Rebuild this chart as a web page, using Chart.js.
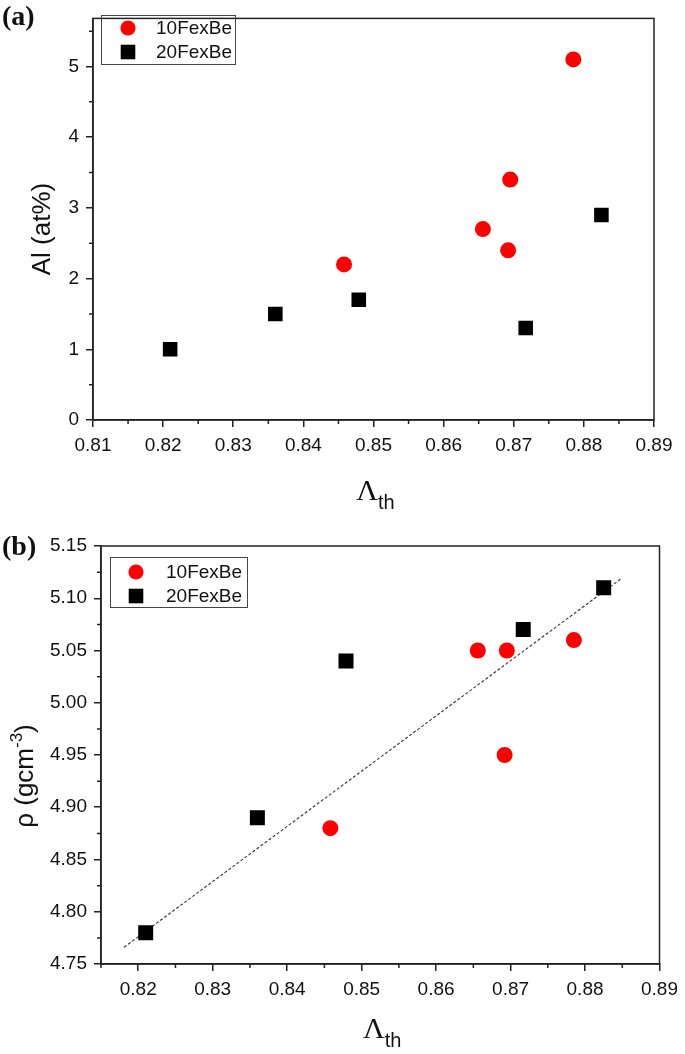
<!DOCTYPE html>
<html>
<head>
<meta charset="utf-8">
<script src="https://cdn.jsdelivr.net/npm/chart.js@4.4.1/dist/chart.umd.min.js"></script>
<style>
  body { margin: 0; background: #fff; }
  #wrap { position: relative; width: 685px; height: 1054px; }
  canvas { position: absolute; left: 0; }
</style>
</head>
<body>
<div id="wrap">
  <canvas id="chartA" width="685" height="520" style="top:0px"></canvas>
  <canvas id="chartB" width="685" height="534" style="top:520px"></canvas>
</div>
<script>
// values
const lambda10 = [0.8458, 0.8656, 0.8692, 0.8695, 0.8785];
const lambda20 = [0.8210, 0.8360, 0.8479, 0.8717, 0.8825];
const al10 = [2.2, 2.7, 2.4, 3.4, 5.1];
const al20 = [1.0, 1.5, 1.7, 1.3, 2.9];
const rho10 = [4.88, 5.05, 4.95, 5.05, 5.06];
const rho20 = [4.78, 4.89, 5.04, 5.07, 5.11];
const fitLambda = [0.8181, 0.8849];
const fitRho = [4.766, 5.119];
const seriesNames = ['10FexBe', '20FexBe'];

// tick labels (major) and minor tick positions
const ticksAx = [0.81, 0.82, 0.83, 0.84, 0.85, 0.86, 0.87, 0.88, 0.89];
const ticksAy = [0, 1, 2, 3, 4, 5];
const minorAx = [0.815, 0.825, 0.835, 0.845, 0.855, 0.865, 0.875, 0.885];
const minorAy = [0.5, 1.5, 2.5, 3.5, 4.5, 5.5];
const ticksBx = [0.82, 0.83, 0.84, 0.85, 0.86, 0.87, 0.88, 0.89];
const ticksBy = [4.75, 4.80, 4.85, 4.90, 4.95, 5.00, 5.05, 5.10, 5.15];
const minorBx = [0.815, 0.825, 0.835, 0.845, 0.855, 0.865, 0.875, 0.885];
const minorBy = [4.775, 4.825, 4.875, 4.925, 4.975, 5.025, 5.075, 5.125];

const SANS = "'Liberation Sans', Arial, sans-serif";
const SERIF = "'Liberation Serif', 'Times New Roman', serif";
const INK = '#222';

const pts = (xs, ys) => xs.map((x, i) => ({ x: x, y: ys[i] }));

function axis(min, max, ticks, fmt, fit, pad) {
  return {
    type: 'linear', min: min, max: max,
    afterBuildTicks: s => { s.ticks = ticks.map(v => ({ value: v })); },
    afterFit: s => { Object.assign(s, fit); },
    grid: { drawOnChartArea: false, drawTicks: true, tickLength: 7, color: INK, lineWidth: 1.5 },
    border: { display: true, color: INK, width: 1.5 },
    ticks: { autoSkip: false, maxRotation: 0, padding: pad, color: '#111',
             font: { family: SANS, size: 19 }, callback: v => fmt(v) }
  };
}

// frame, minor ticks, legend, titles
const decor = {
  id: 'decor',
  afterDraw(chart, args, o) {
    const ctx = chart.ctx, a = chart.chartArea;
    const xs = chart.scales.x, ys = chart.scales.y;
    ctx.save();
    ctx.strokeStyle = INK;
    ctx.lineWidth = 1.5;
    ctx.strokeRect(a.left, a.top, a.right - a.left, a.bottom - a.top);
    ctx.beginPath();
    o.minorX.forEach(v => { const p = xs.getPixelForValue(v); ctx.moveTo(p, a.bottom); ctx.lineTo(p, a.bottom + 4); });
    o.minorY.forEach(v => { const p = ys.getPixelForValue(v); ctx.moveTo(a.left - 4, p); ctx.lineTo(a.left, p); });
    ctx.stroke();

    // legend
    const L = o.legend;
    ctx.lineWidth = 1;
    ctx.strokeStyle = '#444';
    ctx.strokeRect(L.x + 0.5, L.y + 0.5, L.w, L.h);
    ctx.font = '19px ' + SANS;
    ctx.textBaseline = 'middle';
    ctx.textAlign = 'left';
    [0, 1].forEach(i => {
      const ds = chart.data.datasets[i];
      const cy = L.y + L.rows[i];
      ctx.fillStyle = ds.backgroundColor;
      if (ds.pointStyle === 'circle') {
        ctx.beginPath(); ctx.arc(L.mx, cy, 7.6, 0, Math.PI * 2); ctx.fill();
      } else {
        ctx.fillRect(L.mx - 7.3, cy - 7.3, 14.6, 14.6);
      }
      ctx.fillStyle = '#111';
      ctx.fillText(ds.label, L.tx, cy + 1);
    });

    // panel letter
    ctx.font = 'bold 28px ' + SERIF;
    ctx.textBaseline = 'alphabetic';
    ctx.fillText(o.letter, 2, o.letterY);

    // x title: Lambda with subscript th
    ctx.font = '30px ' + SERIF;
    const wL = ctx.measureText('\u039B').width;
    ctx.font = '20px ' + SANS;
    const wT = ctx.measureText('th').width;
    const cx = (a.left + a.right) / 2 + 2;
    const x0 = cx - (wL + wT) / 2;
    ctx.font = '30px ' + SERIF;
    ctx.fillText('\u039B', x0, a.bottom + o.xTitleDy);
    ctx.font = '20px ' + SANS;
    ctx.fillText('th', x0 + wL, a.bottom + o.xTitleDy + 9);

    // y title
    ctx.translate(o.yTitleX, o.yTitleY);
    ctx.rotate(-Math.PI / 2);
    const parts = o.yTitle;
    let w = 0;
    parts.forEach(p => { ctx.font = p.size + 'px ' + SANS; w += ctx.measureText(p.t).width; });
    let x = -w / 2;
    ctx.textBaseline = 'middle';
    parts.forEach(p => {
      ctx.font = p.size + 'px ' + SANS;
      ctx.fillText(p.t, x, p.up ? -p.up : 0);
      x += ctx.measureText(p.t).width;
    });
    ctx.restore();
  }
};

function scatterSets(x10, y10, x20, y20, sq) {
  return [
    { label: seriesNames[0], data: pts(x10, y10), pointStyle: 'circle', pointRadius: 8,
      backgroundColor: '#ff0000', borderWidth: 0, pointBorderWidth: 0 },
    { label: seriesNames[1], data: pts(x20, y20), pointStyle: 'rect', pointRadius: sq,
      backgroundColor: '#000000', borderWidth: 0, pointBorderWidth: 0 }
  ];
}

const common = {
  responsive: false, animation: false, devicePixelRatio: 1,
  plugins: { legend: { display: false }, tooltip: { enabled: false } },
  events: []
};

new Chart(document.getElementById('chartA'), {
  type: 'scatter',
  data: { datasets: scatterSets(lambda10, al10, lambda20, al20, 10.3) },
  options: Object.assign({}, common, {
    layout: { padding: { left: 0, right: 31, top: 3, bottom: 0 } },
    scales: {
      x: axis(0.81, 0.89, ticksAx, v => v.toFixed(2), { height: 100 }, 7),
      y: axis(0, 5.68, ticksAy, v => String(v), { width: 93 }, 7)
    },
    plugins: Object.assign({}, common.plugins, {
      decor: {
        minorX: minorAx, minorY: minorAy, letter: '(a)', letterY: 25,
        legend: { x: 101, y: 15, w: 134, h: 49, mx: 128, tx: 156, rows: [13, 37] },
        xTitleDy: 80,
        yTitleX: 43, yTitleY: 229,
        yTitle: [{ t: 'Al (at%)', size: 26 }]
      }
    })
  }),
  plugins: [decor]
});

new Chart(document.getElementById('chartB'), {
  type: 'scatter',
  data: {
    datasets: scatterSets(lambda10, rho10, lambda20, rho20, 10.6).concat([{
      type: 'line', label: 'fit', data: pts(fitLambda, fitRho), borderColor: '#333',
      borderWidth: 1.1, borderDash: [3, 2], pointRadius: 0, fill: false
    }])
  },
  options: Object.assign({}, common, {
    layout: { padding: { left: 0, right: 20, top: 26, bottom: 0 } },
    scales: {
      x: axis(0.815, 0.89, ticksBx, v => v.toFixed(2), { height: 90 }, 7),
      y: axis(4.75, 5.15, ticksBy, v => v.toFixed(2), { width: 101 }, 7)
    },
    plugins: Object.assign({}, common.plugins, {
      decor: {
        minorX: minorBx, minorY: minorBy, letter: '(b)', letterY: 35,
        legend: { x: 110, y: 37, w: 137, h: 50, mx: 136, tx: 166, rows: [15, 39] },
        xTitleDy: 74,
        yTitleX: 26, yTitleY: 256,
        yTitle: [{ t: '\u03C1 (gcm', size: 26 }, { t: '-3', size: 17, up: 9 }, { t: ')', size: 26 }]
      }
    })
  }),
  plugins: [decor]
});
</script>
</body>
</html>
